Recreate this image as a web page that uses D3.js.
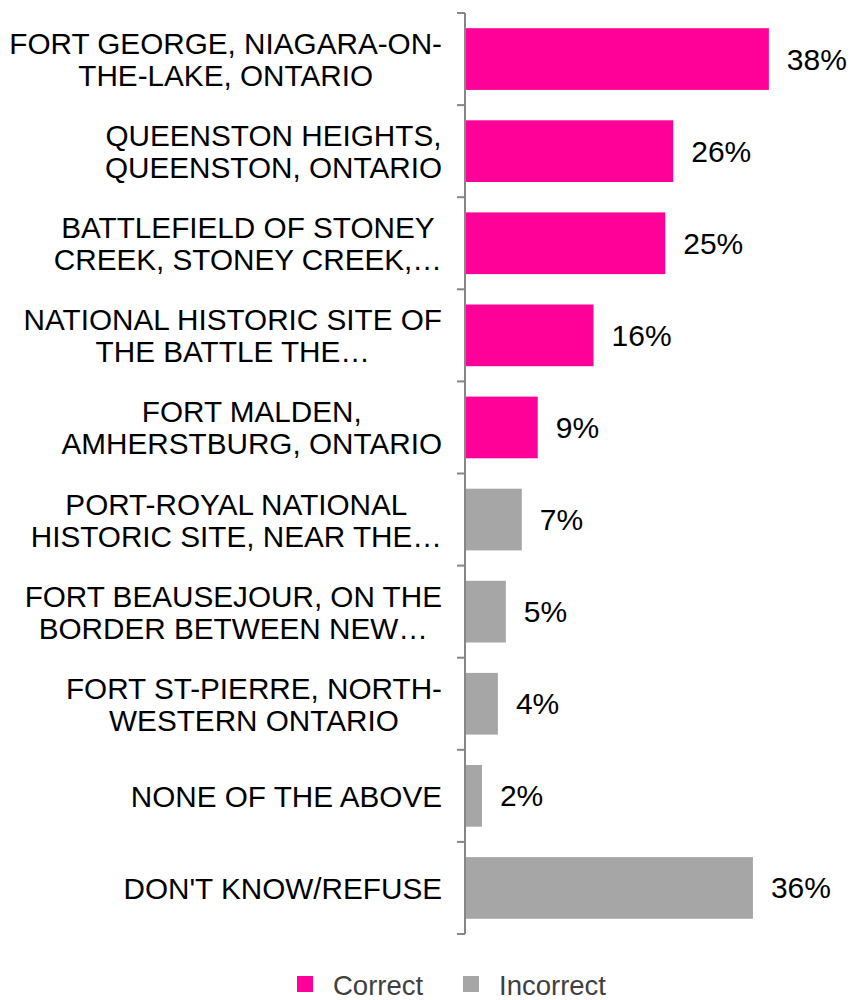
<!DOCTYPE html>
<html>
<head>
<meta charset="utf-8">
<script src="https://cdn.jsdelivr.net/npm/d3@7"></script>
<style>
  html, body { margin: 0; padding: 0; background: #fff; }
  svg { display: block; font-family: "Liberation Sans", Arial, sans-serif; }
</style>
</head>
<body>
<svg id="chart" width="854" height="1000"></svg>
<script>
// Category labels (each entry is a list of wrapped lines)
const categories = [
  ["FORT GEORGE, NIAGARA-ON-", "THE-LAKE, ONTARIO"],
  ["QUEENSTON HEIGHTS,", "QUEENSTON, ONTARIO"],
  ["BATTLEFIELD OF STONEY", "CREEK, STONEY CREEK,\u2026"],
  ["NATIONAL HISTORIC SITE OF", "THE BATTLE THE\u2026"],
  ["FORT MALDEN,", "AMHERSTBURG, ONTARIO"],
  ["PORT-ROYAL NATIONAL", "HISTORIC SITE, NEAR THE\u2026"],
  ["FORT BEAUSEJOUR, ON THE", "BORDER BETWEEN NEW\u2026"],
  ["FORT ST-PIERRE, NORTH-", "WESTERN ONTARIO"],
  ["NONE OF THE ABOVE"],
  ["DON'T KNOW/REFUSE"]
];
const values = [38, 26, 25, 16, 9, 7, 5, 4, 2, 36];
const groups = ["Correct", "Correct", "Correct", "Correct", "Correct",
                "Incorrect", "Incorrect", "Incorrect", "Incorrect", "Incorrect"];
const legendLabels = ["Correct", "Incorrect"];
const colors = ["#FF0099", "#A6A6A6"];

const svg = d3.select("#chart");
const axisX = 465;
const plotTop = 13, plotBottom = 934;

const idx = d3.range(categories.length);
const y = d3.scaleBand().domain(idx).range([plotTop, plotBottom]).paddingInner(0.33).paddingOuter(0.165);
const x = d3.scaleLinear().domain([0, 40]).range([axisX + 1, axisX + 1 + 40 * 7.97]);
const color = d3.scaleOrdinal().domain(legendLabels).range(colors);

// Bars
svg.append("g").selectAll("rect").data(idx).join("rect")
  .attr("x", x(0))
  .attr("y", i => y(i))
  .attr("width", i => x(values[i]) - x(0))
  .attr("height", y.bandwidth())
  .attr("fill", i => color(groups[i]));

// Vertical axis with ticks on band boundaries
const step = (plotBottom - plotTop) / categories.length;
const ax = svg.append("g").attr("stroke", "#868686").attr("stroke-width", 2);
ax.append("line").attr("x1", axisX).attr("x2", axisX).attr("y1", plotTop).attr("y2", plotBottom);
ax.selectAll("line.tick").data(d3.range(categories.length + 1)).join("line")
  .attr("class", "tick")
  .attr("x1", axisX - 8).attr("x2", axisX)
  .attr("y1", i => plotTop + i * step).attr("y2", i => plotTop + i * step);

// Category labels: each block is right-aligned against the axis, lines centred within it
const lineH = 32;
const labelRight = 442;
const lab = svg.append("g").attr("font-size", 29.7).attr("fill", "#000").attr("text-anchor", "middle");
idx.forEach(i => {
  const lines = categories[i];
  const cy = y(i) + y.bandwidth() / 2;
  const t = lab.append("text");
  const spans = lines.map((ln, k) => t.append("tspan")
    .attr("y", cy + (k - (lines.length - 1) / 2) * lineH + 11)
    .text(ln));
  const blockW = d3.max(spans, s => s.node().getComputedTextLength());
  spans.forEach(s => s.attr("x", labelRight - blockW / 2));
});

// Value labels
svg.append("g").attr("font-size", 30).attr("fill", "#000")
  .selectAll("text").data(idx).join("text")
  .attr("x", i => x(values[i]) + 18)
  .attr("y", i => y(i) + y.bandwidth() / 2 + 10.5)
  .text(i => values[i] + "%");

// Legend
const lg = svg.append("g");
const legendX = [297, 463];
legendLabels.forEach((name, k) => {
  lg.append("rect").attr("x", legendX[k]).attr("y", 976).attr("width", 16).attr("height", 16)
    .attr("fill", color(name));
  lg.append("text").attr("x", legendX[k] + 36).attr("y", 995)
    .attr("font-size", 27.5).attr("fill", "#404040").text(name);
});
</script>
</body>
</html>
